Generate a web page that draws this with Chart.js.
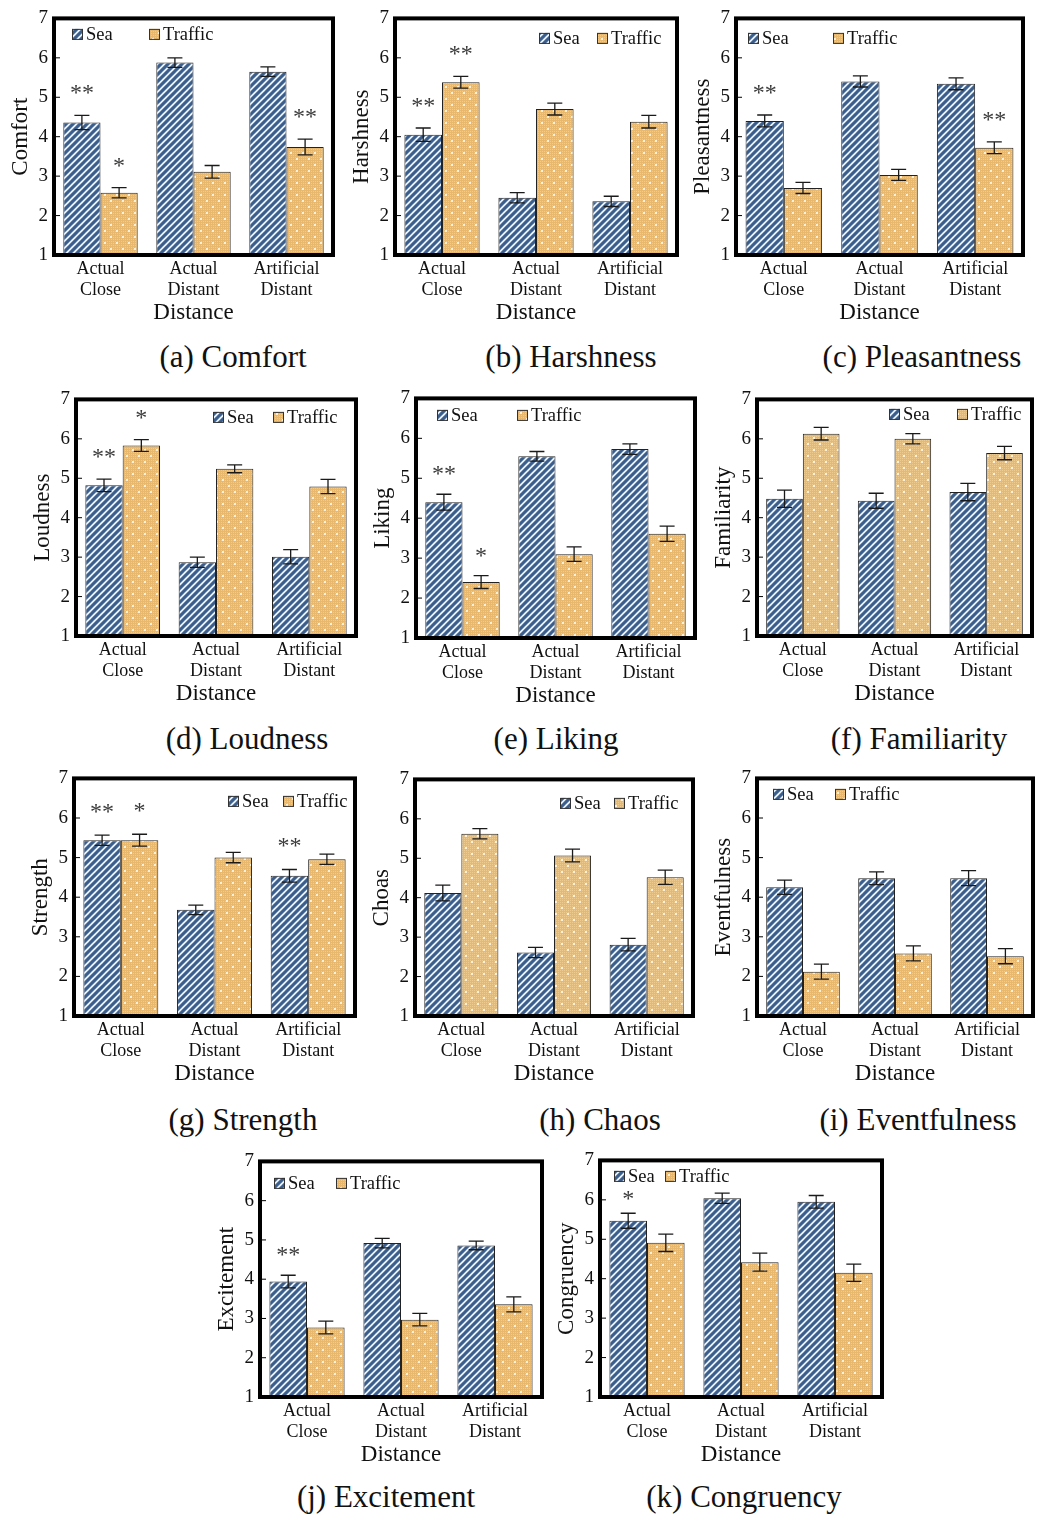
<!DOCTYPE html>
<html><head><meta charset="utf-8">
<script src="https://cdn.jsdelivr.net/npm/chart.js@4/dist/chart.umd.min.js"></script>
<style>
html,body{margin:0;padding:0;background:#fff;}
body{width:1037px;height:1517px;position:relative;overflow:hidden;font-family:'Liberation Serif','Times New Roman',serif;}
canvas{position:absolute;}
.cap{position:absolute;font-size:31px;line-height:40px;height:40px;white-space:nowrap;transform:translateX(-50%);color:#111;}
</style></head><body>
<script>
// ---------- data ----------
const categories = [["Actual","Close"],["Actual","Distant"],["Artificial","Distant"]];
const seriesNames = ["Sea","Traffic"];
const yTicks = [1,2,3,4,5,6,7];
const xTitle = "Distance";
const metricNames = ["Comfort","Harshness","Pleasantness","Loudness","Liking","Familiarity","Strength","Choas","Eventfulness","Excitement","Congruency"];
const captions = ["(a) Comfort","(b) Harshness","(c) Pleasantness","(d) Loudness","(e) Liking","(f) Familiarity","(g) Strength","(h) Chaos","(i) Eventfulness","(j) Excitement","(k) Congruency"];

const comfortSea = [4.36,5.88,5.65];      const comfortSeaErr = [0.18,0.12,0.12];
const comfortTraffic = [2.58,3.11,3.74];  const comfortTrafficErr = [0.13,0.16,0.20];
const comfortSeaSig = ["**","",""];       const comfortTrafficSig = ["*","","**"];

const harshSea = [4.05,2.45,2.36];        const harshSeaErr = [0.17,0.13,0.13];
const harshTraffic = [5.38,4.70,4.38];    const harshTrafficErr = [0.15,0.15,0.16];
const harshSeaSig = ["**","",""];         const harshTrafficSig = ["**","",""];

const pleasSea = [4.40,5.40,5.34];        const pleasSeaErr = [0.15,0.14,0.15];
const pleasTraffic = [2.70,3.03,3.72];    const pleasTrafficErr = [0.14,0.14,0.15];
const pleasSeaSig = ["**","",""];         const pleasTrafficSig = ["","","**"];

const loudSea = [4.82,2.87,3.01];         const loudSeaErr = [0.16,0.13,0.18];
const loudTraffic = [5.83,5.24,4.79];     const loudTrafficErr = [0.15,0.10,0.18];
const loudSeaSig = ["**","",""];          const loudTrafficSig = ["*","",""];

const likingSea = [4.40,5.55,5.73];       const likingSeaErr = [0.20,0.12,0.13];
const likingTraffic = [2.40,3.10,3.61];   const likingTrafficErr = [0.16,0.18,0.19];
const likingSeaSig = ["**","",""];        const likingTrafficSig = ["*","",""];

const famSea = [4.48,4.43,4.65];          const famSeaErr = [0.22,0.19,0.22];
const famTraffic = [6.13,6.00,5.64];      const famTrafficErr = [0.16,0.13,0.17];
const famSeaSig = ["","",""];             const famTrafficSig = ["","",""];

const strengthSea = [5.44,3.68,4.54];     const strengthSeaErr = [0.13,0.12,0.16];
const strengthTraffic = [5.44,5.00,4.96]; const strengthTrafficErr = [0.15,0.13,0.13];
const strengthSeaSig = ["**","","**"];    const strengthTrafficSig = ["*","",""];

const chaosSea = [4.12,2.61,2.81];        const chaosSeaErr = [0.20,0.13,0.16];
const chaosTraffic = [5.62,5.07,4.52];    const chaosTrafficErr = [0.13,0.16,0.18];
const chaosSeaSig = ["","",""];           const chaosTrafficSig = ["","",""];

const eventSea = [4.25,4.48,4.48];        const eventSeaErr = [0.18,0.16,0.19];
const eventTraffic = [2.12,2.58,2.51];    const eventTrafficErr = [0.19,0.19,0.19];
const eventSeaSig = ["","",""];           const eventTrafficSig = ["","",""];

const exciteSea = [3.94,4.92,4.86];       const exciteSeaErr = [0.16,0.12,0.11];
const exciteTraffic = [2.77,2.97,3.36];   const exciteTrafficErr = [0.16,0.16,0.19];
const exciteSeaSig = ["**","",""];        const exciteTrafficSig = ["","",""];

const congSea = [5.47,6.04,5.95];         const congSeaErr = [0.19,0.13,0.16];
const congTraffic = [4.91,4.42,4.15];     const congTrafficErr = [0.22,0.23,0.22];
const congSeaSig = ["*","",""];           const congTrafficSig = ["","",""];

const panelData = [
  [comfortSea,comfortSeaErr,comfortSeaSig,comfortTraffic,comfortTrafficErr,comfortTrafficSig],
  [harshSea,harshSeaErr,harshSeaSig,harshTraffic,harshTrafficErr,harshTrafficSig],
  [pleasSea,pleasSeaErr,pleasSeaSig,pleasTraffic,pleasTrafficErr,pleasTrafficSig],
  [loudSea,loudSeaErr,loudSeaSig,loudTraffic,loudTrafficErr,loudTrafficSig],
  [likingSea,likingSeaErr,likingSeaSig,likingTraffic,likingTrafficErr,likingTrafficSig],
  [famSea,famSeaErr,famSeaSig,famTraffic,famTrafficErr,famTrafficSig],
  [strengthSea,strengthSeaErr,strengthSeaSig,strengthTraffic,strengthTrafficErr,strengthTrafficSig],
  [chaosSea,chaosSeaErr,chaosSeaSig,chaosTraffic,chaosTrafficErr,chaosTrafficSig],
  [eventSea,eventSeaErr,eventSeaSig,eventTraffic,eventTrafficErr,eventTrafficSig],
  [exciteSea,exciteSeaErr,exciteSeaSig,exciteTraffic,exciteTrafficErr,exciteTrafficSig],
  [congSea,congSeaErr,congSeaSig,congTraffic,congTrafficErr,congTrafficSig]
];

// ---------- layout (positions only) ----------
const layout = [
  {L:54, T:15, R:333, B:255, lx:18, lg:77, ly:16, so:27, cx:233, cy:357},
  {L:395,T:15, R:677, B:255, lx:144,lg:58, ly:20, so:27, cx:571, cy:357},
  {L:736,T:15, R:1023,B:255, lx:12, lg:85, ly:20, so:27, cx:922, cy:357},
  {L:76, T:396,R:356, B:636, lx:137,lg:60, ly:18, so:27, cx:247, cy:739},
  {L:416,T:395,R:695, B:638, lx:21, lg:80, ly:17, so:25, cx:556, cy:739},
  {L:757,T:396,R:1032,B:636, lx:132,lg:68, ly:15, so:27, cx:919, cy:739},
  {L:74, T:775,R:355, B:1016,lx:154,lg:55, ly:23, so:28, cx:243, cy:1120},
  {L:415,T:776,R:693, B:1016,lx:145,lg:54, ly:24, so:27, cx:600, cy:1120},
  {L:757,T:775,R:1033,B:1016,lx:16, lg:62, ly:16, so:27, cx:918, cy:1120},
  {L:260,T:1158,R:542,B:1397,lx:14, lg:62, ly:22, so:25, cx:386, cy:1497},
  {L:600,T:1157,R:882,B:1397,lx:14, lg:51, ly:16, so:19, cx:744, cy:1497}
];

// ---------- patterns ----------
function makeSea(){
  const n=7;
  const t=document.createElement('canvas'); t.width=t.height=n;
  const c=t.getContext('2d');
  c.fillStyle='#eaf3fb'; c.fillRect(0,0,n,n);
  c.strokeStyle='#3b5e8d'; c.lineWidth=3.1;
  c.beginPath();
  for(let k=-1;k<=1;k++){ c.moveTo(-1+k*n,n+1); c.lineTo(n+1+k*n,-1); }
  c.stroke();
  return c.createPattern(t,'repeat');
}
function makeTraffic(){
  const t=document.createElement('canvas'); t.width=t.height=12;
  const c=t.getContext('2d');
  c.fillStyle='#e7b86d'; c.fillRect(0,0,12,12);
  c.fillStyle='#f0cb8f';
  for(let x=0;x<12;x+=2) for(let y=0;y<12;y+=2) c.fillRect(x,y,1,1);
  c.fillStyle='#fcf0da';
  c.fillRect(1,1,2,2); c.fillRect(7,7,2,2);
  return c.createPattern(t,'repeat');
}
const seaPattern = makeSea();
const trafficPattern = makeTraffic();

const FONT = "'Liberation Serif','Times New Roman',serif";
Chart.defaults.font.family = FONT;
Chart.defaults.color = '#111';

const framePlugin = {
  id:'frameDeco',
  afterDatasetsDraw(chart, args, opts){
    const {ctx, chartArea:a, scales:{y}} = chart;
    ctx.save();
    // error bars + significance
    chart.data.datasets.forEach((ds,di)=>{
      const meta = chart.getDatasetMeta(di);
      meta.data.forEach((bar,i)=>{
        const v=ds.data[i], e=ds.errors[i];
        const yt=y.getPixelForValue(v+e), yb=y.getPixelForValue(v-e);
        ctx.strokeStyle='#1a1a1a'; ctx.lineWidth=1.3;
        ctx.beginPath();
        ctx.moveTo(bar.x,yt); ctx.lineTo(bar.x,yb);
        ctx.moveTo(bar.x-7.5,yt); ctx.lineTo(bar.x+7.5,yt);
        ctx.moveTo(bar.x-7.5,yb); ctx.lineTo(bar.x+7.5,yb);
        ctx.stroke();
        const s=ds.sig[i];
        if(s){
          ctx.fillStyle='#3a3a3a'; ctx.font='24px '+FONT;
          ctx.textAlign='center'; ctx.textBaseline='alphabetic';
          ctx.fillText(s, bar.x, yt-opts.so+12);
        }
      });
    });
    // inward ticks
    ctx.strokeStyle='#000'; ctx.lineWidth=1;
    y.ticks.forEach(t=>{
      const py=y.getPixelForValue(t.value);
      ctx.beginPath(); ctx.moveTo(a.left,py); ctx.lineTo(a.left+6,py); ctx.stroke();
    });
    // frame
    ctx.strokeStyle='#000'; ctx.lineWidth=4;
    ctx.strokeRect(a.left,a.top,a.right-a.left,a.bottom-a.top);
    // legend inside plot
    const ly=a.top+opts.ly;
    chart.data.datasets.forEach((ds,di)=>{
      const bx=a.left+opts.lx+di*opts.lg;
      ctx.fillStyle=ds.backgroundColor;
      ctx.fillRect(bx,ly-5.5,11,11);
      ctx.strokeStyle='#333'; ctx.lineWidth=1;
      ctx.strokeRect(bx+0.5,ly-5,10,10);
      ctx.fillStyle='#111'; ctx.font='18.5px '+FONT;
      ctx.textAlign='left'; ctx.textBaseline='middle';
      ctx.fillText(ds.label,bx+14,ly+1);
    });
    ctx.restore();
  }
};

const YW=47, PT=14, PR=5, XH=72;

panelData.forEach((p,idx)=>{
  const f=layout[idx];
  const cv=document.createElement('canvas');
  const cw=f.R-f.L+YW+PR, ch=f.B-f.T+PT+XH;
  cv.width=cw; cv.height=ch;
  cv.style.left=(f.L-YW)+'px'; cv.style.top=(f.T-PT)+'px';
  cv.style.width=cw+'px'; cv.style.height=ch+'px';
  document.body.appendChild(cv);
  const cap=document.createElement('div');
  cap.className='cap'; cap.textContent=captions[idx];
  cap.style.left=f.cx+'px'; cap.style.top=(f.cy-20)+'px';
  document.body.appendChild(cap);

  new Chart(cv,{
    type:'bar',
    data:{
      labels:categories,
      datasets:[
        {label:seriesNames[0], data:p[0], errors:p[1], sig:p[2], backgroundColor:seaPattern, borderColor:'#222', borderWidth:1, categoryPercentage:0.8, barPercentage:1.0},
        {label:seriesNames[1], data:p[3], errors:p[4], sig:p[5], backgroundColor:trafficPattern, borderColor:'#222', borderWidth:1, categoryPercentage:0.8, barPercentage:1.0}
      ]
    },
    options:{
      responsive:false, animation:false, devicePixelRatio:1,
      layout:{padding:{top:PT,right:PR,left:0,bottom:0}},
      plugins:{legend:{display:false}, tooltip:{enabled:false}, frameDeco:{lx:f.lx,lg:f.lg,ly:f.ly,so:f.so}},
      scales:{
        x:{
          grid:{display:false,drawTicks:false}, border:{display:false},
          ticks:{padding:3,font:{size:18,lineHeight:1.2},color:'#111',maxRotation:0},
          title:{display:true,text:xTitle,font:{size:23,lineHeight:1.2},padding:0,color:'#111'},
          afterFit(s){s.height=XH;}
        },
        y:{
          min:1,max:7,
          afterBuildTicks(s){ s.ticks=yTicks.map(v=>({value:v})); },
          grid:{display:false,drawTicks:false}, border:{display:false},
          ticks:{padding:6,font:{size:19},color:'#111'},
          title:{display:true,text:metricNames[idx],font:{size:23,lineHeight:1.2},padding:0,color:'#111'},
          afterFit(s){s.width=YW;}
        }
      }
    },
    plugins:[framePlugin]
  });
});
</script>
</body></html>
